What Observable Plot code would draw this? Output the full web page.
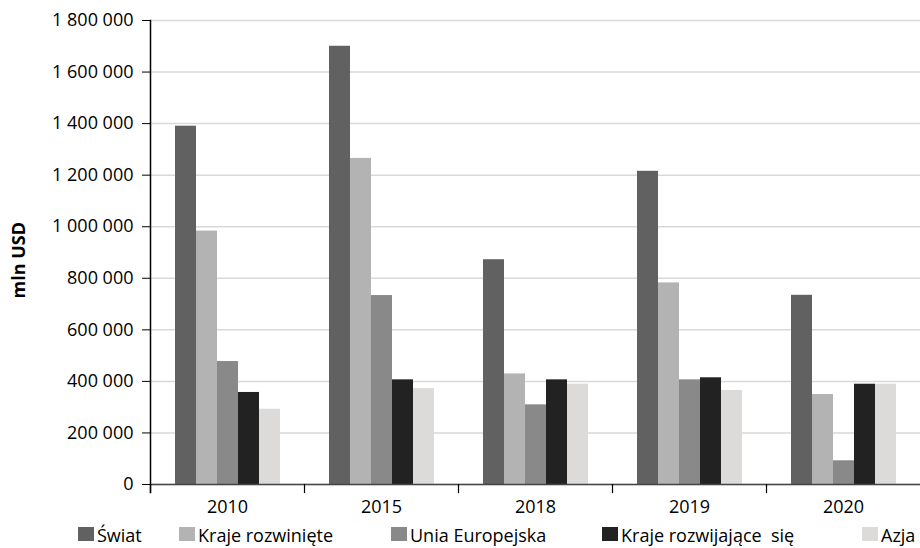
<!DOCTYPE html>
<html><head><meta charset="utf-8">
<script src="https://cdn.jsdelivr.net/npm/d3@7"></script>
<script src="https://cdn.jsdelivr.net/npm/@observablehq/plot@0.6"></script>
<style>
body{margin:0;background:#fff;font-family:"Open Sans",sans-serif;}
#chart{position:relative;width:920px;height:548px;overflow:hidden;}
#legend{position:relative;top:-4px;height:21px;font-size:18px;color:#000;}
.item{position:absolute;top:0;white-space:pre;line-height:24px;padding-left:19px;}
.sw{position:absolute;left:0;top:4px;width:16px;height:14px;}
.item:nth-child(1){left:78px}
.item:nth-child(2){left:179px}
.item:nth-child(3){left:391px}
.item:nth-child(4){left:602px}
.item:nth-child(5){left:862px}
</style>
</head><body>
<div id="chart"></div>
<script>
const years = ["2010", "2015", "2018", "2019", "2020"];
const seriesNames = ["Świat", "Kraje rozwinięte", "Unia Europejska", "Kraje rozwijające  się", "Azja"];
const swiat = [1390000, 1700000, 872000, 1215000, 734000];
const krajeRozwiniete = [983000, 1265000, 429000, 782000, 349000];
const uniaEuropejska = [477000, 733000, 309000, 406000, 92000];
const krajeRozwijajace = [357000, 406000, 406000, 414000, 389000];
const azja = [292000, 372000, 389000, 365000, 389000];
const seriesColors = ["#616161", "#b3b3b3", "#898989", "#222222", "#dcdbd9"];
const yTicks = [0, 200000, 400000, 600000, 800000, 1000000, 1200000, 1400000, 1600000, 1800000];

const seriesValues = [swiat, krajeRozwiniete, uniaEuropejska, krajeRozwijajace, azja];
const data = [];
years.forEach((yr, i) => seriesNames.forEach((s, j) => data.push({year: yr, series: s, value: seriesValues[j][i]})));

const H = 527, MT = 20, MB = 43;
const innerH = H - MT - MB;
const fmt = d => d3.format(",")(d).replace(/,/g, " ");

const chart = Plot.plot({
  width: 920,
  height: H,
  marginTop: MT,
  marginBottom: MB,
  marginLeft: 150,
  marginRight: 0,
  style: {fontFamily: "'Open Sans', sans-serif", fontSize: "18px", color: "#000", background: "#fff"},
  fx: {domain: years, padding: 0, label: null},
  x: {domain: seriesNames, paddingInner: 0, paddingOuter: 1.06, axis: null},
  y: {domain: [0, 1800000], axis: null},
  color: {domain: seriesNames, range: seriesColors},
  marks: [
    Plot.gridY(yTicks, {stroke: "#d9d9d9", strokeOpacity: 1, strokeWidth: 1.5}),
    Plot.barY(data, {fx: "year", x: "series", y: "value", fill: "series"}),
    Plot.ruleY([0], {stroke: "#444", strokeWidth: 1.5}),
    Plot.frame({anchor: "left", insetTop: innerH, insetBottom: -8, stroke: "#000", strokeWidth: 1.2}),
    Plot.frame({anchor: "left", facetAnchor: "left", insetBottom: -8, stroke: "#000", strokeWidth: 1.5}),
    Plot.axisY({ticks: yTicks, tickFormat: fmt, tickSize: 8, tickPadding: 9, label: null, stroke: "#000"}),
    Plot.axisFx({anchor: "bottom", tickSize: 0, tickPadding: 16, label: null}),
    Plot.text(["mln USD"], {text: d => d, frameAnchor: "left", facetAnchor: "left", rotate: -90, dx: -131, dy: 46, fontWeight: "bold", fontSize: 18, fill: "#000"})
  ]
});
document.getElementById("chart").appendChild(chart);

const legend = document.createElement("div");
legend.id = "legend";
seriesNames.forEach((s, j) => {
  const item = document.createElement("div");
  item.className = "item";
  const sw = document.createElement("span");
  sw.className = "sw";
  sw.style.background = seriesColors[j];
  item.appendChild(sw);
  item.appendChild(document.createTextNode(s));
  legend.appendChild(item);
});
document.getElementById("chart").appendChild(legend);
</script>
</body></html>
